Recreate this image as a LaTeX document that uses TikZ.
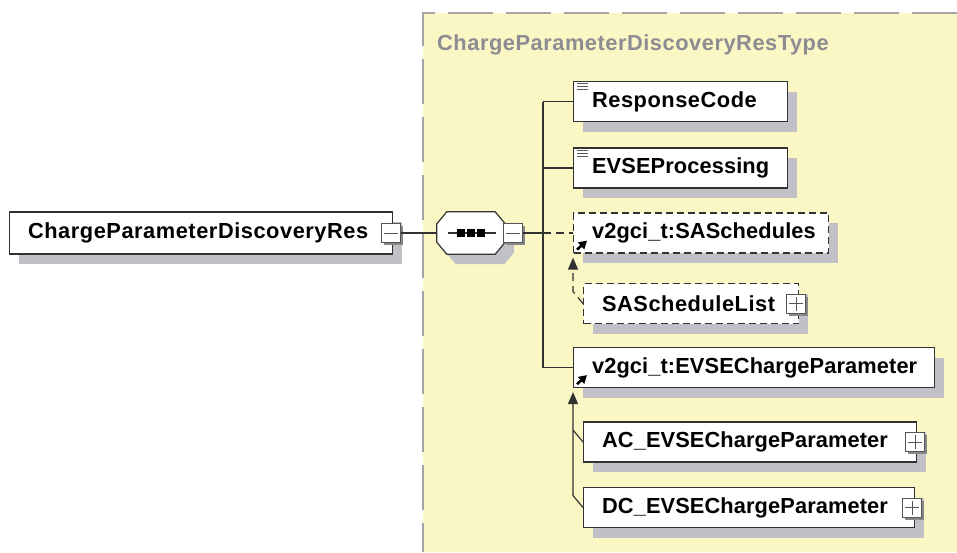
\documentclass[tikz,border=0pt]{standalone}
\usepackage{fontspec}
\setmainfont{Liberation Sans}
\newfontfamily\elemfamily[LetterSpace=2.5]{Liberation Sans}
\newfontfamily\tightfamily[LetterSpace=0.5]{Liberation Sans}
\usetikzlibrary{shadows,arrows.meta,calc}
\definecolor{bgyellow}{RGB}{250,247,196}
\definecolor{bgdash}{RGB}{165,165,165}
\definecolor{shadowgray}{RGB}{192,192,198}
\definecolor{boxline}{RGB}{50,50,50}
\definecolor{titlegray}{RGB}{140,140,146}
\definecolor{sqline}{RGB}{85,85,85}
\newcommand\elemfont{\elemfamily\bfseries\fontsize{21.8}{24}\selectfont}
\newcommand\tight{\tightfamily\bfseries\fontsize{21.8}{24}\selectfont}
\newcommand\octpath[3]{($(#1.north west)+(10+#2,#3)$) -- ($(#1.north east)+(-10+#2,#3)$)
  -- ($(#1.north east)+(#2,12+#3)$) -- ($(#1.south east)+(#2,-12+#3)$)
  -- ($(#1.south east)+(-10+#2,#3)$) -- ($(#1.south west)+(10+#2,#3)$)
  -- ($(#1.south west)+(#2,-12+#3)$) -- ($(#1.north west)+(#2,12+#3)$) -- cycle}
\tikzset{
  elem/.style={draw=boxline, line width=1.2pt, fill=white, minimum height=40pt,
    inner sep=0pt, anchor=west, font=\elemfont, text=black, align=left,
    execute at begin node={\hspace*{18.5pt}},
    general shadow={fill=shadowgray, shadow xshift=9pt, shadow yshift=-10pt}},
  ew/.style={minimum width=#1, text width=#1},
  optional/.style={dash pattern=on 7pt off 4pt},
  sqbox/.style={draw=sqline, line width=1pt, fill=white, minimum size=19pt,
    inner sep=0pt, shape=rectangle,
    general shadow={fill=sqline!70, shadow xshift=2.5pt, shadow yshift=-2.5pt}},
  minusbox/.style={sqbox, path picture={\draw[sqline, line width=0.9pt]
    ([xshift=2.5pt]path picture bounding box.west) -- ([xshift=-2.5pt]path picture bounding box.east);}},
  plusbox/.style={sqbox, path picture={\draw[sqline, line width=0.9pt]
    ([xshift=2.5pt]path picture bounding box.west) -- ([xshift=-2.5pt]path picture bounding box.east)
    ([yshift=-2.5pt]path picture bounding box.north) -- ([yshift=2.5pt]path picture bounding box.south);}},
  seqframe/.style={minimum width=68pt, minimum height=42pt, inner sep=0pt},
  conn/.style={draw=boxline, line width=1.2pt},
  dashedconn/.style={conn, dash pattern=on 8pt off 5pt},
  subarrow/.style={-{Triangle[width=10pt,length=12pt]}},
  iconline/.style={draw=boxline!80, line width=0.9pt},
  refarrow/.style={draw=black, line width=2.6pt, -{Triangle[width=9pt,length=8pt]}}
}
\begin{document}
\begin{tikzpicture}[x=1pt,y=-1pt]
\useasboundingbox (0,0) rectangle (957,552);
% complex type background
\fill[bgyellow] (423,13) rectangle (957,552);
\draw[bgdash, line width=2pt, dash pattern=on 45pt off 13pt] (957,13) -- (423,13) -- (423,552);
\node[font=\elemfont, text=titlegray, anchor=base west, inner sep=0pt] (title) at (437,50) {ChargeParameterDiscoveryResType};

% root element and sequence
\node[elem, ew=383, minimum height=42pt] (root) at (9,233) {ChargeParameterDiscoveryRes};
\node[minusbox] (m1) at (391,233) {};
\node[seqframe] (seq) at (471,233) {};
\fill[shadowgray] \octpath{seq}{9}{10};
\draw[conn, fill=white] \octpath{seq}{0}{0};
\draw[conn] ($(seq.center)+(-23,0)$) -- ($(seq.center)+(25,0)$);
\foreach \dx in {-10,0,10}
  \fill[black] ($(seq.center)+(\dx-4,-4)$) rectangle ++(8,8);
\node[minusbox] (m2) at (513,233) {};

% children
\node[elem, ew=214] (rc) at (573,101.5) {ResponseCode};
\node[elem, ew=214, font=\tight] (ep) at (573,168) {EVSEProcessing};
\node[elem, ew=255, optional, font=\tight] (sas) at (573,233) {v2gci\_t:SASchedules};
\node[elem, ew=215, optional] (sal) at (583,303.5) {SAScheduleList};
\node[plusbox] (psal) at (796,303.5) {};
\node[elem, ew=361, font=\tight] (ecp) at (573,367.5) {v2gci\_t:EVSEChargeParameter};
\node[elem, ew=333, font=\tight] (ac) at (583,442) {AC\_EVSEChargeParameter};
\node[plusbox] (pac) at (915,442) {};
\node[elem, ew=331, font=\tight] (dc) at (583,507.5) {DC\_EVSEChargeParameter};
\node[plusbox] (pdc) at (912,507.5) {};

% connectors
\coordinate (tk) at (543,233);
\draw[conn] (m1.east) -- (seq.west);
\draw[conn] (m2.east) -- (tk);
\draw[conn] (tk |- rc.west) -- (tk |- ecp.west);
\draw[conn] (tk |- rc.west) -- (rc.west);
\draw[conn] (tk |- ep.west) -- (ep.west);
\draw[dashedconn] (tk) -- (sas.west);
\draw[conn] (tk |- ecp.west) -- (ecp.west);

% substitution groups
\coordinate (sub1) at ($(sal.west)+(-10,-12)$);
\draw[dashedconn, subarrow] (sal.west) -- (sub1) -- ($(sas.south west)+(0,4)$);
\coordinate (sub2) at ($(dc.west)+(-10,-12)$);
\coordinate (sub3) at ($(ac.west)+(-10,-12)$);
\draw[conn, subarrow] (dc.west) -- (sub2) -- ($(ecp.south west)+(0,4)$);
\draw[conn] (ac.west) -- (sub3);

% icons
\foreach \n in {rc,ep}
  \foreach \d in {3,6,9}
    \draw[iconline] ($(\n.north west)+(4,\d)$) -- ++(11,0);
\draw[refarrow] ($(sas.south west)+(4,-4)$) -- ++(10,-9);
\draw[refarrow] ($(ecp.south west)+(4,-4)$) -- ++(10,-9);
\end{tikzpicture}
\end{document}
